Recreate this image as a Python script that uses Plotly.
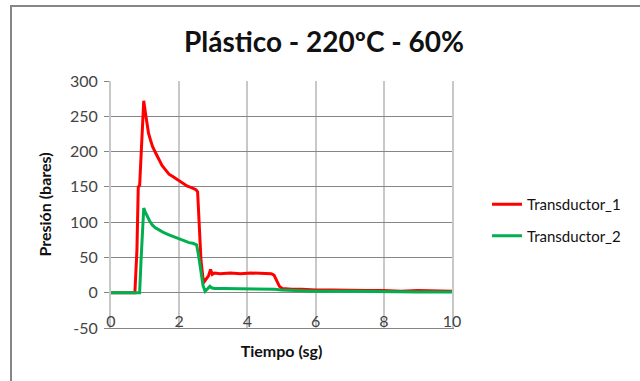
import plotly.graph_objects as go

# ---- data ----
t1 = [0, 0.70, 0.76, 0.80, 0.84, 0.90, 0.96, 1.00, 1.05, 1.10, 1.16, 1.22, 1.31, 1.40, 1.50,
      1.60, 1.70, 1.80, 1.90, 2.00, 2.12, 2.24, 2.36, 2.49, 2.54, 2.58, 2.64, 2.70, 2.74, 2.80,
      2.86, 2.92, 2.97, 3.03, 3.2, 3.5, 3.8, 4.1, 4.4, 4.7, 4.78, 4.86, 4.94, 5.02, 5.3, 5.6,
      6.0, 6.5, 7.0, 7.5, 8.0, 8.5, 9.0, 9.5, 10.0]
v1 = [0, 0, 60, 150, 152, 215, 272, 258, 240, 226, 216, 207, 198, 190, 180,
      174, 168, 165, 162, 158, 155, 151, 149, 146, 143, 110, 45, 20, 16, 20,
      24, 33, 26, 28, 27, 28, 27, 28, 27, 27, 25, 16, 9, 6, 5, 5,
      4, 4, 3, 3, 3, 2, 3, 2, 2]

t2 = [0, 0.84, 0.88, 0.93, 0.96, 1.00, 1.06, 1.13, 1.21, 1.30, 1.41, 1.55, 1.70, 1.85, 2.00,
      2.15, 2.29, 2.40, 2.51, 2.56, 2.60, 2.65, 2.70, 2.76, 2.83, 2.90, 2.95, 3.03, 3.3, 3.6,
      4.0, 4.4, 4.8, 5.0, 5.5, 6.0, 7.0, 8.0, 9.0, 10.0]
v2 = [0, 0, 45, 100, 120, 115, 108, 102, 96, 92, 89, 85, 82, 79, 77,
      74, 71, 70, 68, 55, 40, 22, 10, 2, 5, 9, 7, 6, 6, 6,
      5, 5, 5, 4, 3, 2, 2, 1, 1, 1]

names = ["Transductor_1", "Transductor_2"]
x_ticks = [0, 2, 4, 6, 8, 10]
y_ticks = [-50, 0, 50, 100, 150, 200, 250, 300]
y_ticktext = ["-50", "0", "50", "100", "150", "200", "250", "300"]

FONT = "Lato"
W, H = 640, 381
L, R, T, B = 111, 188, 81, 53
ph = H - T - B
pw = W - L - R

fig = go.Figure()
fig.add_trace(go.Scatter(x=t1, y=v1, mode="lines", name=names[0], legendgroup="a",
                         line=dict(color="#FF0000", width=3)))
fig.add_trace(go.Scatter(x=t2, y=v2, mode="lines", name=names[1], legendgroup="b",
                         xaxis="x2", line=dict(color="#00B050", width=3)))

fig.update_layout(
    width=W, height=H,
    margin=dict(l=L, r=R, t=T, b=B),
    paper_bgcolor="white", plot_bgcolor="white",
    font=dict(family=FONT, size=16, color="#444444"),
    title=dict(text="<b>Plástico - 220ºC - 60%</b>", x=324 / W, xanchor="center",
               y=1 - 42 / H, yanchor="middle", yref="container",
               font=dict(family=FONT, size=28, color="#111111")),
    xaxis=dict(range=[0, 10], tickvals=x_ticks, showticklabels=False,
               showgrid=True, gridcolor="#c8c8c8", gridwidth=2, zeroline=False,
               showline=True, linecolor="#868686", linewidth=1, ticks="",
               title=dict(text="<b>Tiempo (sg)</b>", standoff=17,
                          font=dict(family=FONT, size=16, color="#111111"))),
    xaxis2=dict(range=[0, 10], matches="x", overlaying="x", anchor="free",
                position=18 / ph, side="bottom", tickvals=x_ticks,
                showgrid=False, zeroline=False, showline=False, ticks="",
                tickfont=dict(family=FONT, size=16, color="#444444")),
    yaxis=dict(range=[-50, 300], tickvals=y_ticks, ticktext=y_ticktext,
               showgrid=True, gridcolor="#868686",
               gridwidth=1, zeroline=False, showline=True, linecolor="#c8c8c8", linewidth=2,
               mirror=True, ticks="outside", ticklen=5, tickcolor="#868686",
               ticklabelstandoff=3,
               tickfont=dict(family=FONT, size=16, color="#444444"),
               title=dict(text="<b>Presión (bares)</b>", standoff=14,
                          font=dict(family=FONT, size=16, color="#111111"))),
    legend=dict(x=(487 - L) / pw, xanchor="left", y=1 - (188 - T) / ph, yanchor="top",
                tracegroupgap=9, font=dict(family=FONT, size=15, color="#111111"),
                bgcolor="rgba(0,0,0,0)"),
    shapes=[dict(type="rect", xref="paper", yref="paper",
                 x0=(11 - L) / pw, x1=(700 - L) / pw,
                 y0=(H - B - 450) / ph, y1=(H - B - 6) / ph,
                 line=dict(color="#868686", width=2), fillcolor="rgba(0,0,0,0)", layer="below")],
)

fig.write_html("out.html", config={"displayModeBar": False},
               post_script="document.body.style.margin='0';document.body.style.overflow='hidden';")
